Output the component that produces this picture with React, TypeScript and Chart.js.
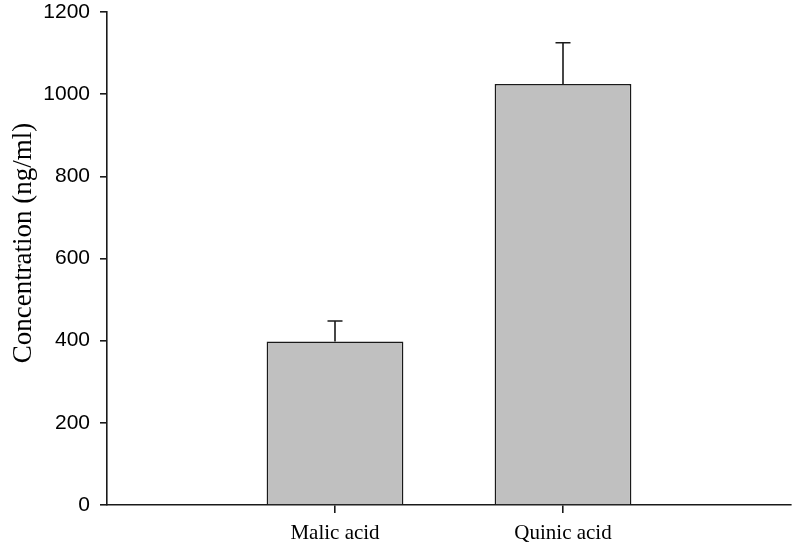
import React, { useEffect, useRef } from "react";
import { Chart, registerables } from "chart.js";

Chart.register(...registerables);

const categories = ["", "Malic acid", "Quinic acid", ""];
const means: (number | null)[] = [null, 398, 1025, null];
const errors: (number | null)[] = [null, 50, 100, null];
const yMin = 0;
const yMax = 1200;
const yStep = 200;
const yTitle = "Concentration (ng/ml)";

const AXIS = "#1a1a1a";

const errorBarPlugin = {
  id: "errorBars",
  afterDatasetsDraw(chart: any) {
    const meta = chart.getDatasetMeta(0);
    const yScale = chart.scales.y;
    const ctx = chart.ctx;
    ctx.save();
    ctx.strokeStyle = AXIS;
    ctx.lineWidth = 1.6;
    means.forEach((m, i) => {
      const e = errors[i];
      if (m == null || e == null) return;
      const bar = meta.data[i];
      const x = bar.x;
      const y0 = yScale.getPixelForValue(m);
      const y1 = yScale.getPixelForValue(m + e);
      ctx.beginPath();
      ctx.moveTo(x, y0);
      ctx.lineTo(x, y1);
      ctx.moveTo(x - 7.5, y1);
      ctx.lineTo(x + 7.5, y1);
      ctx.stroke();
    });
    ctx.restore();
  },
};

const yTitlePlugin = {
  id: "yTitle",
  afterDraw(chart: any) {
    const ctx = chart.ctx;
    ctx.save();
    ctx.translate(31, 243);
    ctx.rotate(-Math.PI / 2);
    ctx.font = "27px 'Liberation Serif', 'Times New Roman', serif";
    ctx.fillStyle = "#000";
    ctx.textAlign = "center";
    ctx.textBaseline = "alphabetic";
    ctx.fillText(yTitle, 0, 0);
    ctx.restore();
  },
};

export default function App() {
  const ref = useRef<HTMLCanvasElement>(null);
  useEffect(() => {
    if (!ref.current) return;
    const chart = new Chart(ref.current, {
      type: "bar",
      data: {
        labels: categories,
        datasets: [
          {
            data: means as any,
            backgroundColor: "#c0c0c0",
            borderColor: AXIS,
            borderWidth: 1.6,
            barPercentage: 0.6,
            categoryPercentage: 1,
          },
        ],
      },
      options: {
        animation: false,
        responsive: false,
        layout: { padding: { left: 0, right: 2, top: 12, bottom: 0 } },
        plugins: {
          legend: { display: false },
          tooltip: { enabled: false },
        },
        scales: {
          x: {
            offset: false,
            grid: {
              offset: false,
              drawOnChartArea: false,
              drawTicks: true,
              tickLength: 8,
              lineWidth: 1.6,
              color: (c: any) =>
                c.index === 1 || c.index === 2 ? AXIS : "rgba(0,0,0,0)",
            },
            border: { display: true, color: AXIS, width: 1.6 },
            ticks: {
              color: "#000",
              padding: 8,
              maxRotation: 0,
              font: { family: "'Liberation Serif', 'Times New Roman', serif", size: 21 },
            },
            afterFit: (s: any) => {
              s.height = 39;
              s.paddingLeft = 0;
              s.paddingRight = 0;
            },
          },
          y: {
            min: yMin,
            max: yMax,
            ticks: {
              stepSize: yStep,
              color: "#000",
              padding: 10,
              font: { family: "'Liberation Sans', Arial, sans-serif", size: 21 },
              callback: (v: any) => String(v),
            },
            grid: {
              drawOnChartArea: false,
              drawTicks: true,
              tickLength: 7,
              lineWidth: 1.6,
              color: AXIS,
            },
            border: { display: true, color: AXIS, width: 1.6 },
            afterFit: (s: any) => {
              s.width = 107;
              s.paddingTop = 0;
              s.paddingBottom = 0;
            },
          },
        },
      },
      plugins: [errorBarPlugin, yTitlePlugin],
    });
    return () => chart.destroy();
  }, []);
  return (
    <div style={{ position: "absolute", left: 0, top: 0, width: 793, height: 544 }}>
      <canvas ref={ref} width={793} height={544} />
    </div>
  );
}
